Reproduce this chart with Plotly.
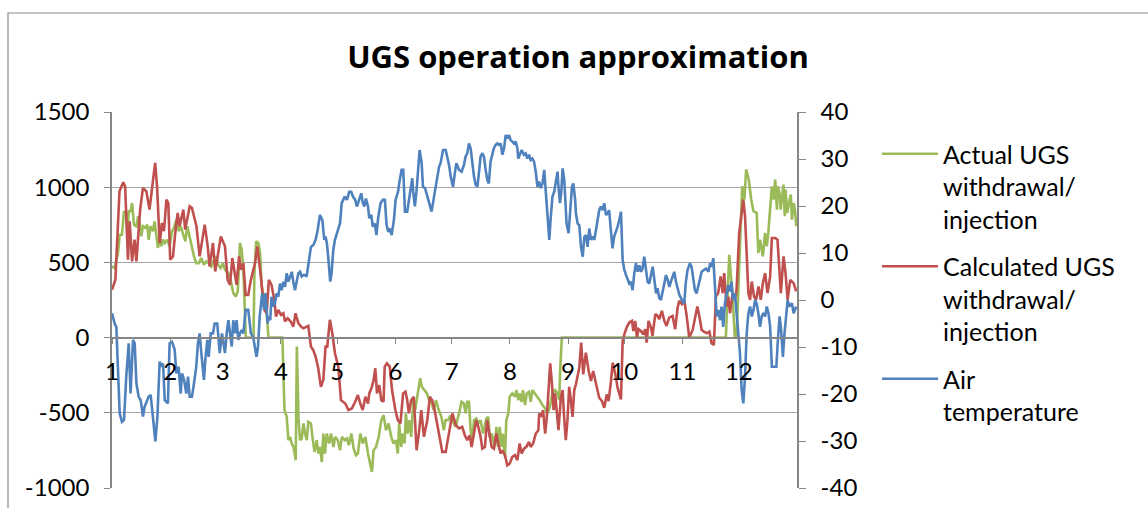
import plotly.graph_objects as go

# ---------------- data (day of year, value) ----------------
MONTH_START_DAYS = [0, 31, 59, 90, 120, 151, 181, 212, 243, 273, 304, 334]
MONTH_LABELS = ["1", "2", "3", "4", "5", "6", "7", "8", "9", "10", "11", "12"]
LEFT_TICKS = [-1000, -500, 0, 500, 1000, 1500]
LEFT_TICK_TEXT = ["-1000", "-500", "0", "500", "1000", "1500"]
RIGHT_TICKS = [-40, -30, -20, -10, 0, 10, 20, 30, 40]
RIGHT_TICK_TEXT = ["-40", "-30", "-20", "-10", "0", "10", "20", "30", "40"]

ACTUAL = [(0,473),(1.4,462),(3.2,562),(4.1,684),(5.3,684),(6.4,840),(7.6,829),(8.2,673),(8.9,840),(9.9,840),(10.7,895),(11.7,751),(13,740),(13.9,807),(14.7,762),(15.6,673),(16.5,740),(17.8,729),(18.8,751),(19.5,651),(20.6,740),(21.8,707),(22.7,773),(23.6,673),(24.5,596),(25.4,673),(26.3,607),(27.2,651),(28.1,629),(29.5,651),(30.7,607),(32,707),(33,729),(34.3,784),(35.5,707),(36.6,740),(37.8,684),(39.1,640),(40.1,740),(41.4,662),(42.6,607),(43.7,540),(44.9,495),(46.2,495),(47.6,529),(49,484),(50.3,507),(51.5,495),(52.9,473),(54.4,518),(55.6,540),(56.5,484),(57.9,462),(59.1,495),
(60.2,451),(62,429),(63.4,373),(64.6,296),(65.9,273),(67,307),(68.2,629),(69.1,584),(70,451),(70.9,207),(71.3,0),(73.6,0),(75.4,0),(75.9,429),(76.8,640),(78,629),(78.9,562),(79.8,340),(80.7,251),(81.6,296),(82.5,140),(83.4,0),(86.9,0),(90.8,0),(91.9,-482),(93.1,-527),(94,-682),(94.9,-660),(95.8,-704),(96.7,-727),(97.9,-815),(98.5,-60),(99.4,-549),(100.2,-682),(101.1,-671),(102,-571),(102.9,-638),(103.8,-682),(104.6,-560),(106,-571),(106.8,-660),(107.9,-760),(109.1,-682),(110,-771),(110.8,-727),(111.8,-827),(112.6,-638),(113.5,-771),(114.4,-638),(115.7,-704),(116.7,-638),(118,-727),(118.9,-660),(120.3,-682),(121.5,-749),
(122.5,-660),(124,-682),(125.2,-671),(126.2,-715),(127.5,-638),(128.8,-738),(130,-782),(131,-771),(132.3,-638),(133.6,-704),(135,-660),(136.4,-771),(137.7,-838),(138.5,-893),(139.4,-749),(140.7,-727),(142.1,-660),(143.5,-549),(144.7,-516),(146,-616),(147.4,-571),(148.8,-660),(150,-704),(151.3,-682),(152.3,-771),(153,-571),(154.1,-727),(154.8,-638),(155.9,-704),(156.6,-504),(157.5,-638),(158.4,-549),(159.4,-660),(160.6,-416),(161.5,-482),(163,-349),(164.2,-271),(165.1,-327),(166.5,-349),(167.8,-371),(169,-416),(170.1,-427),(171.4,-482),(172.6,-416),(174.1,-482),(175.5,-527),(176.8,-616),(177.7,-549),(179.1,-549),(180.4,-516),(181.3,-549),(183.1,-593),
(184.9,-504),(186.3,-427),(187.5,-438),(188.4,-504),(189.3,-427),(190.2,-427),(191.1,-616),(192,-682),(192.9,-549),(194.1,-538),(195.2,-571),(196.4,-549),(197.7,-638),(198.7,-582),(199.5,-538),(200.5,-527),(201.2,-660),(202.3,-638),(203,-682),(204.1,-727),(204.8,-593),(205.9,-727),(206.6,-593),(207.6,-727),(208.3,-638),(209.4,-793),(210.1,-549),(211.2,-504),(211.9,-393),(213.3,-371),(214.7,-393),(215.5,-349),(216.5,-416),(217.2,-371),(218.3,-427),(219,-349),(220.1,-449),(221,-371),(222.2,-360),(223.1,-427),(224,-349),(225.4,-371),(226.7,-393),(227.9,-416),(229.4,-449),(230.8,-471),(232,-504),(233.3,-460),(234.7,-371),(236.1,-349),(237.4,-371),(238.3,-416),(238.8,-216),(239.7,0),
(260,0),(290,0),(327.1,0),(328.9,551),(330.5,300),(331.9,0),(332.8,0),(335.8,1006),(337,918),(337.9,1118),(339.3,1051),(340.6,918),(341.8,840),(343.5,829),(344.4,562),(345.3,651),(346.8,540),(348,696),(348.9,607),(349.7,696),(350.7,851),(351.6,1006),(352.5,918),(353.4,1051),(354.3,851),(354.8,1006),(355.7,962),(356.3,851),(357.8,1017),(358.5,807),(358.9,984),(359.8,829),(360.7,895),(361.7,951),(362.3,784),(363.2,895),(363.9,851),(364.6,740)]

CALCULATED = [(0,318),(1.8,385),(4,973),(6,1033),(7,1006),(8.5,518),(9.4,773),(10.7,507),(12,651),(13,507),(15,851),(16.5,995),(18.3,973),(20,851),(22,1062),(23,1162),(24,1006),(25.4,629),(26.6,762),(27.7,707),(29,918),(30,895),(31,518),(32.5,540),(33.7,696),(35,829),(36,740),(38,851),(39,718),(41.4,873),(42.6,862),(45,740),(46.7,540),(49.4,751),(51,607),(52,473),(53.8,629),(55,440),(58,673),
(60.2,607),(61.6,384),(62.9,351),(64.1,529),(65.2,429),(66.4,351),(67.7,540),(68.7,451),(70,495),(71.2,284),(72.6,284),(74,384),(76.2,495),(77.4,607),(78.9,451),(80.1,318),(81.2,184),(82.4,162),(83.6,384),(85,351),(86.5,251),(87.4,140),(88.6,184),(90,151),(91.3,162),(92.2,107),(93.6,129),(95.2,107),(96.6,73),(97.8,162),(99.3,96),(100.7,73),(102,62),(103.7,73),(104.6,78),(106,-60),(107.2,-82),(108.5,-127),(109.9,-204),(111.3,-327),(112.6,-282),(113.8,-60),(114.7,-60),(116.1,118),(117.4,29),(118.8,-104),(120.6,-193),
(122,-416),(124.3,-438),(126,-482),(127.8,-471),(129.6,-427),(131,-382),(132.3,-438),(133.6,-482),(135,-393),(136.4,-438),(137.1,-371),(138.5,-327),(139.4,-282),(140.3,-204),(141.2,-371),(142.4,-316),(143.5,-416),(144.7,-427),(145.3,-193),(146.5,-171),(148,-193),(149.2,-349),(151,-482),(152.3,-549),(153.7,-571),(155.1,-371),(156.4,-360),(157.3,-416),(158.2,-504),(159.4,-416),(160.8,-393),(162.3,-749),(163.5,-638),(164.8,-482),(166.2,-660),(168,-549),(169.4,-393),(170.6,-416),(171.9,-482),(173.4,-593),(174.8,-682),(176,-760),(177.8,-760),(179.6,-638),(181.4,-504),(183.2,-582),
(184.9,-604),(186.6,-593),(188,-649),(189.3,-682),(190.6,-649),(191.6,-727),(192.9,-638),(194.1,-549),(195.2,-593),(196.4,-660),(197.3,-738),(198.7,-727),(199.9,-549),(201.2,-638),(202.3,-727),(203.5,-738),(204.8,-638),(205.8,-704),(207.1,-771),(208,-749),(209.4,-782),(210.6,-849),(211.9,-838),(213.3,-793),(214.7,-782),(216,-815),(217.2,-704),(218.3,-771),(219.5,-738),(220.8,-727),(222.2,-693),(223.1,-727),(224.4,-704),(225.8,-638),(227.2,-616),(227.6,-504),(228.5,-527),(229.7,-482),(230.8,-638),(231.7,-527),(232.6,-304),(233.5,-171),(234.4,-304),(235.3,-482),(236.1,-371),(237.2,-504),(237.9,-616),(239.2,-393),(240.1,-349),(240.9,-527),(241.8,-682),(242.7,-549),(243.6,-327),(244.5,-416),(245.4,-527),(246.3,-349),
(247.2,-311),(249,-200),(250,-33),(251.1,-244),(252.5,-100),(254,-222),(255.2,-289),(256.4,-222),(257.9,-311),(259.6,-400),(261.1,-422),(262.3,-467),(263.6,-378),(264.6,-422),(265.9,-289),(266.8,-167),(268.2,-244),(269.4,-333),(271.2,-411),(272.1,-22),(273,22),(274.2,67),(275.6,100),(277.1,111),(277.8,44),(278.8,111),(279.7,0),(280.6,56),(281.8,44),(283.1,22),(284.1,56),(284.9,-33),(285.9,111),(287.2,67),(288,11),(289.5,156),(290.7,144),(291.6,122),(293,178),(294.3,111),(295.5,78),(296.9,133),(298.7,144),(300.1,56),(301.4,200),(302.3,244),(303.7,222),(305,244),(306.2,144),(307.6,0),
(309.4,51),(310.6,140),(311.9,207),(313,140),(314.2,51),(315.4,40),(316.9,29),(318.3,40),(319.5,-38),(320.7,-49),(321.8,273),(323,296),(324.3,407),(325.4,296),(326.2,429),(327.5,207),(328.4,273),(329.3,162),(330.7,296),(331.9,251),(332.8,318),(334.2,696),(335.5,851),(336.4,918),(337.3,807),(338.2,518),(339.1,296),(340,251),(340.9,373),(342.1,273),(343.2,251),(344.5,340),(345.7,251),(346.8,362),(348,429),(349.3,296),(350.7,407),(351.6,662),(353.4,662),(354.6,651),(355.7,429),(356.4,296),(357.8,540),(358.9,429),(360,251),(361.4,384),(363.2,362),(364.6,307)]

AIR_TEMP = [(0,-2.8),(1.4,-5),(2.3,-5.7),(3.2,-14.2),(4.1,-24.1),(5.3,-25.9),(6.4,-25.5),(7.6,-16.3),(8.9,-9.2),(9.9,-19.9),(11.2,-8.5),(12.1,-9.2),(13,-17.7),(14.2,-20.6),(15.3,-21.3),(16.5,-24.8),(17.4,-22.7),(18.8,-21.3),(19.5,-20.6),(20.6,-20.2),(21.8,-24.8),(23.1,-30.1),(24.2,-24.8),(25.4,-13.1),(26.3,-14.2),(27.2,-13.5),(28.1,-21.3),(29,-21.6),(29.8,-22),(30.7,-9.2),(32,-8.9),(33.4,-10.6),(34.3,-15.6),(35.5,-14.2),(36.6,-19.9),(37.3,-15.6),(38.4,-17),(39.6,-19.9),(40.5,-16.3),(41.4,-20.6),(42.6,-20.6),(43.7,-17.7),(44.9,-14.2),(45.8,-9.2),(46.7,-7.1),(47.6,-11.3),(49,-17),(49.7,-12.8),(50.8,-8.5),(51.5,-12.1),(52.6,-7.1),(53.8,-7.1),(54.7,-5),(56.1,-5),(57.4,-11.3),(58.6,-7.1),
(60.2,-11.3),(61.1,-7.1),(62,-4.3),(62.9,-7.1),(63.8,-9.9),(64.6,-4.3),(65.5,-7.1),(66.4,-4.3),(67.3,-8.5),(68.2,-7.1),(69.1,-6.4),(70,-7.1),(71.2,-2.1),(72.6,-2.1),(74,-7.1),(75.2,-7.8),(76.1,-9.9),(77,-12.1),(77.8,-9.9),(78.7,-3.5),(80,1.4),(81.1,-2.1),(81.8,1.4),(82.9,-5),(83.6,-3.5),(84.3,-4.3),(85,0.7),(85.9,-1.4),(86.8,-0.7),(87.7,1.4),(88.6,0.7),(89.5,3.5),(90.4,2.1),(91.3,3.9),(92.2,2.8),(93.1,5.7),(94,3.9),(94.9,5),(95.8,6),(96.6,3.9),(97.5,2.1),(98.4,3.9),(99.3,5.7),(100.2,6),(101.1,5),(102,5.3),(102.9,5.3),(103.7,5),(105,8.9),(106,11.3),(107.3,11.7),(108.5,12.8),(109.6,14.9),(110.8,18.1),(112.1,17),(113.1,12.8),(113.8,13.5),(114.5,12.1),(115.2,9.2),(116.3,3.9),(117,5.7),(117.9,10.6),(118.8,12.8),(119.7,14.2),(120.6,15.2),(121.5,16.3),(122.4,20.6),
(124,22),(125.2,21.3),(126.4,23),(127.5,23),(128.4,22),(129.6,21.3),(130.5,19.9),(131.8,21.3),(132.8,22.7),(133.5,20.9),(134.4,19.9),(135.3,21.6),(136.4,19.9),(137.1,17.4),(138.2,18.1),(138.9,15.6),(140,16.3),(140.9,13.8),(141.8,17.4),(143.1,20.6),(144.3,21.3),(145.4,21.3),(146.3,16),(147.2,14.5),(148.1,15.2),(149,13.8),(150.2,17),(151.1,21.3),(152.4,23),(153.2,25.2),(154.3,27.7),(155.2,27.7),(156.1,18.8),(157.3,18.8),(158.2,21.3),(159.1,23.8),(160,25.9),(160.5,23),(161.4,19.9),(162.3,23.4),(163.2,28.4),(163.9,31.9),(165,29.1),(165.7,24.1),(166.8,23.8),(168,22),(169.3,20.6),(170.3,18.8),(171.6,22),(172.5,24.1),(173.4,25.5),(174.3,28.4),(175.1,29.1),(176.4,31.9),(177.8,31.9),(178.7,30.5),(179.6,28.7),(180.5,26.2),(181.7,24.1),(182.8,27.3),(183.5,29.1),
(184.9,27.7),(186.3,27.3),(187.5,28.7),(188.4,30.5),(189.3,31.2),(190.2,33.3),(191.1,32.3),(192,28.4),(192.9,26.2),(193.8,24.5),(194.7,24.1),(195.6,27.3),(196.4,30.5),(197.3,31.2),(198.2,30.5),(199.1,27.7),(200,25.5),(200.8,24.8),(201.7,29.4),(202.6,30.9),(203.5,32.3),(204.4,33),(205.3,33.3),(206.2,33),(207.1,33.3),(208,30.9),(208.9,32.3),(209.8,35.1),(210.6,34.4),(211.5,35.1),(212.4,34),(213.3,33.7),(214.2,33.3),(215.1,33.7),(216,32.3),(216.5,30.1),(217.4,30.9),(218.3,31.9),(219.5,30.9),(220.4,31.2),(221.3,30.1),(222.2,30.9),(223.1,29.8),(224,30.1),(224.9,29.4),(225.8,27.3),(226.7,24.1),(227.6,25.2),(228.5,23.8),(229.4,24.8),(230.3,27.7),(231.2,22),(232.1,18.4),(233,12.8),(233.8,17.7),(234.7,22),(235.6,23),(236.5,24.8),(237.4,27.3),(237.9,24.1),(238.7,20.6),(239.4,23),(240.1,28),(241,25.5),(241.5,22),(242.2,16.3),(243.3,14.2),(244,18.4),(245.1,24.1),(245.8,24.8),(246.8,21.3),
(247.2,18.4),(248.1,16.3),(249,15.9),(249.9,11.3),(250.8,9.2),(251.7,13.5),(252.6,13.8),(253.4,11.3),(254.3,15.2),(255.2,12.8),(256.1,13.5),(257,12.8),(257.9,14.9),(258.8,17.7),(259.6,19.1),(260.5,19.9),(261.4,19.1),(262.3,20.6),(263.2,18.1),(264.1,18.4),(264.9,19.1),(265.8,14.9),(266.7,11),(267.6,13.5),(268.5,14.5),(269.4,15.6),(270.3,17),(271.2,18.8),(272.1,8.5),(273,6.4),(273.9,5.3),(274.7,4.6),(275.6,3.5),(276.5,3.9),(277.4,2.1),(278.3,5.7),(279.2,7.8),(280.1,6),(281,7.4),(281.8,6),(282.7,6.7),(283.6,9.2),(284.5,6.4),(285.4,3.9),(286.3,3.5),(287.2,5),(288.1,7.1),(289,4.3),(289.9,1.4),(290.7,2.5),(291.6,0.4),(292.5,0),(293.4,1.8),(294.3,3.9),(295.2,5.3),(296.1,4.3),(297,2.8),(297.8,3.9),(298.7,5),(299.6,6),(300.5,3.9),(301.4,2.1),(302.3,1.1),(303.2,0.4),(304.1,-0.4),(304.9,-0.7),(305.8,3.9),(306.7,6.4),
(307.9,7.8),(308.8,7.1),(309.7,4.3),(310.6,2.1),(311.5,1.4),(312.4,2.8),(313.3,4.6),(314.2,6),(315.4,6.4),(316.5,6.7),(317.8,6),(318.7,7.8),(319.5,7.1),(320.4,8.9),(321.3,2.8),(322.2,-3.5),(323.1,-2.1),(324,-4.3),(324.8,-1.4),(325.7,-5.7),(326.6,-0.7),(327.5,1.4),(328.4,3.2),(329.2,1.8),(330.1,3.9),(331,0),(331.9,1.4),(332.8,-2.8),(333.7,-7.8),(334.6,-11.3),(335.5,-19.1),(336.4,-22),(337.3,-16.3),(338.2,-7.1),(339.1,-2.8),(340,-1.4),(340.9,-3.5),(341.8,-2.1),(342.7,0),(343.5,-0.7),(344.4,-2.8),(345.3,-5.7),(346.2,-3.5),(347.1,-2.8),(348,-3.5),(348.9,-1.4),(349.8,-2.8),(350.7,-5.7),(351.6,-14.2),(352.9,-14.2),(354,-14.2),(354.7,-9.2),(355.7,-3.5),(356.4,-5.7),(357.5,-12.1),(358.2,-7.8),(359.3,-3.5),(360,0),(361,-1.4),(362.3,-0.7),(363.2,-2.8),(364.6,-1.4)]

actual_day = [p[0] for p in ACTUAL]
actual_val = [p[1] for p in ACTUAL]
calc_day = [p[0] for p in CALCULATED]
calc_val = [p[1] for p in CALCULATED]
temp_day = [p[0] for p in AIR_TEMP]
temp_val = [p[1] for p in AIR_TEMP]

FONT = "Lato"
GRID = "#a6a6a6"
AXIS = "#868686"

fig = go.Figure()
fig.add_trace(go.Scatter(x=actual_day, y=actual_val, mode="lines", legendgroup="a",
                         name="Actual UGS<br>withdrawal/<br>injection",
                         line=dict(color="#9BBB59", width=2.6)))
fig.add_trace(go.Scatter(x=calc_day, y=calc_val, mode="lines", legendgroup="c",
                         name="Calculated UGS<br>withdrawal/<br>injection",
                         line=dict(color="#C0504D", width=2.6)))
fig.add_trace(go.Scatter(x=temp_day, y=temp_val, mode="lines", legendgroup="t",
                         name="Air<br>temperature", yaxis="y2",
                         line=dict(color="#4F81BD", width=2.6)))

W, H = 1148, 508
L, R, T, B = 112, 351, 112, 20
PW, PH = W - L - R, H - T - B

fig.update_layout(
    width=W, height=H,
    margin=dict(l=L, r=R, t=T, b=B, autoexpand=False),
    paper_bgcolor="white", plot_bgcolor="white",
    font=dict(family=FONT, size=24, color="black"),
    title=dict(text="UGS operation approximation", x=578 / W, xanchor="center",
               y=1 - 57 / H, yanchor="middle", yref="container", automargin=False,
               font=dict(family="Open Sans", size=31, color="black", weight="bold")),
    xaxis=dict(range=[0, 365], tickvals=MONTH_START_DAYS, ticktext=MONTH_LABELS,
               anchor="free", position=0.4, showgrid=False, zeroline=False,
               showline=True, linecolor=AXIS, linewidth=1.5, automargin=False,
               ticks="outside", ticklen=6, tickcolor=AXIS, tickwidth=1.2,
               ticklabelstandoff=7, tickfont=dict(size=24)),
    yaxis=dict(range=[-1000, 1500], tickvals=LEFT_TICKS, ticktext=LEFT_TICK_TEXT,
               showgrid=True, gridcolor=GRID, automargin=False,
               gridwidth=1.3, zeroline=False, showline=True, linecolor=AXIS,
               linewidth=1.5, ticks="outside", ticklen=6, tickcolor=AXIS,
               ticklabelstandoff=10, tickfont=dict(size=24)),
    yaxis2=dict(range=[-40, 40], tickvals=RIGHT_TICKS, ticktext=RIGHT_TICK_TEXT,
                overlaying="y", side="right", automargin=False,
                showgrid=False, zeroline=False, showline=True, linecolor=AXIS,
                linewidth=1.5, ticks="outside", ticklen=7, tickcolor=AXIS,
                ticklabelstandoff=10, tickfont=dict(size=24)),
    legend=dict(x=(877 - L) / PW, y=(H - B - 131) / PH, xanchor="left", yanchor="top",
                font=dict(family=FONT, size=25), valign="top", itemwidth=56,
                bgcolor="rgba(0,0,0,0)", tracegroupgap=12),
    showlegend=True,
    shapes=[dict(type="rect", xref="paper", yref="paper",
                 x0=(8 - L) / PW, x1=(1152 - L) / PW,
                 y0=(H - B - 530) / PH, y1=(H - B - 13) / PH,
                 line=dict(color="#8c8c8c", width=1.2), fillcolor="rgba(0,0,0,0)",
                 layer="below")],
)

fig.write_html("out.html", config={"displayModeBar": False},
               post_script="document.body.style.margin='0px';")
